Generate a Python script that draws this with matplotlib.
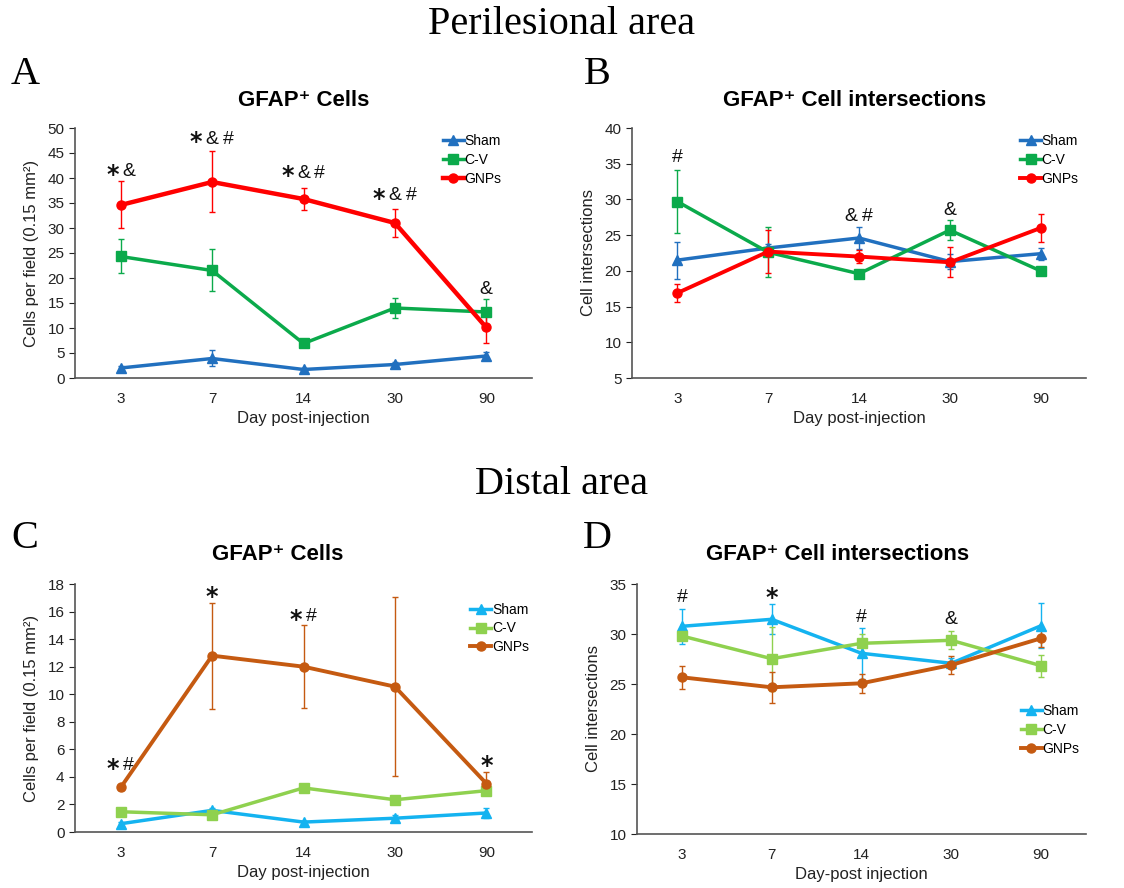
import matplotlib
matplotlib.use("Agg")
import matplotlib.pyplot as plt

plt.rcParams['font.family'] = ['Liberation Sans', 'DejaVu Sans']

days = ["3", "7", "14", "30", "90"]
groups = ["Sham", "C-V", "GNPs"]

# Panel A: perilesional GFAP+ cells
a_sham = [2.0, 3.9, 1.7, 2.7, 4.4]
a_sham_err = [0.3, 1.6, 0.3, 0.4, 0.8]
a_cv = [24.3, 21.5, 6.9, 14.0, 13.2]
a_cv_err = [3.4, 4.2, 0.6, 2.0, 2.5]
a_gnp = [34.6, 39.2, 35.8, 31.0, 10.1]
a_gnp_err = [4.7, 6.1, 2.2, 2.8, 3.1]
a_marks = ["* &", "* & #", "* & #", "* & #", "&"]
a_mark_y = [41.3, 47.8, 41.0, 36.4, 17.6]

# Panel B: perilesional intersections
b_sham = [21.5, 23.2, 24.6, 21.3, 22.4]
b_sham_err = [2.6, 0.6, 1.5, 1.0, 0.85]
b_cv = [29.7, 22.6, 19.6, 25.7, 20.0]
b_cv_err = [4.4, 3.5, 0.4, 1.4, 0.3]
b_gnp = [16.9, 22.7, 22.0, 21.2, 26.0]
b_gnp_err = [1.2, 3.0, 0.9, 2.1, 1.9]
b_marks = ["#", "", "& #", "&", ""]
b_mark_y = [35.8, 0, 27.6, 28.5, 0]

# Panel C: distal GFAP+ cells
c_sham = [0.6, 1.57, 0.72, 1.0, 1.38]
c_sham_err = [0.1, 0.15, 0.1, 0.2, 0.38]
c_cv = [1.47, 1.25, 3.2, 2.34, 3.0]
c_cv_err = [0.1, 0.15, 0.15, 0.15, 0.15]
c_gnp = [3.23, 12.8, 12.0, 10.55, 3.52]
c_gnp_err = [0.15, 3.85, 3.0, 6.5, 0.8]
c_marks = ["* #", "*", "* #", "", "*"]
c_mark_y = [4.8, 17.3, 15.66, 0, 5.04]

# Panel D: distal intersections
d_sham = [30.77, 31.47, 28.07, 27.07, 30.83]
d_sham_err = [1.75, 1.5, 2.56, 0.5, 2.27]
d_cv = [29.8, 27.53, 29.07, 29.37, 26.83]
d_cv_err = [0.4, 3.2, 0.9, 0.9, 1.1]
d_gnp = [25.67, 24.67, 25.07, 26.9, 29.57]
d_gnp_err = [1.17, 1.57, 0.93, 0.93, 0.9]
d_marks = ["#", "*", "#", "&", ""]
d_mark_y = [33.7, 33.97, 31.7, 31.4, 0]

W, H = 1124, 888
fig = plt.figure(figsize=(W / 100, H / 100), dpi=100)


def rect(l, r, t, b):
    return [l / W, 1 - b / H, (r - l) / W, (b - t) / H]


colors_top = ["#2170BF", "#0BAA4B", "#FF0000"]
colors_bot = ["#14B3F0", "#8FD14F", "#C55A11"]
markers = ["^", "s", "o"]
msizes = [7, 6.5, 6.5]


def panel(r, series, errs, colors, ylim, yticks, ylabel, xlabel, title, title_x, title_y,
          marks, mark_y, leg_anchor, lw_list):
    ax = fig.add_axes(rect(*r))
    x = list(range(len(days)))
    for s, e, c, m, ms, g, lw in zip(series, errs, colors, markers, msizes, groups, lw_list):
        ax.errorbar(x, s, yerr=e, fmt='none', ecolor=c, elinewidth=1, capsize=2.5,
                    capthick=1, zorder=2)
        ax.plot(x, s, color=c, marker=m, markersize=ms, lw=lw, label=g, zorder=3)
    ax.set_xlim(-0.5, len(days) - 0.5)
    ax.set_ylim(*ylim)
    ax.set_yticks(yticks)
    ax.set_xticks(x)
    ax.set_xticklabels(days)
    ax.tick_params(axis='x', length=0, labelsize=11, pad=10, colors='#222222')
    ax.tick_params(axis='y', length=4, labelsize=11, colors='#222222', direction='out')
    for sp in ['top', 'right']:
        ax.spines[sp].set_visible(False)
    for sp in ['left', 'bottom']:
        ax.spines[sp].set_color('#555555')
        ax.spines[sp].set_linewidth(1.2)
    ax.set_ylabel(ylabel, fontsize=12, color='#222222', labelpad=6)
    ax.set_xlabel(xlabel, fontsize=12, color='#222222', labelpad=4)
    for xi, t, y in zip(x, marks, mark_y):
        toks = t.split()
        n = len(toks)
        for i, tok in enumerate(toks):
            dx = (i - (n - 1) / 2) * 11.5
            if tok == '*':
                ax.annotate('*', (xi, y), xytext=(dx, -2.5), textcoords='offset points',
                            ha='center', va='center', fontsize=17, fontweight='bold',
                            family=['DejaVu Sans'], color='#111111')
            else:
                ax.annotate(tok, (xi, y), xytext=(dx, 0), textcoords='offset points',
                            ha='center', va='center', fontsize=14, color='#111111')
    ax.legend(loc='upper left', bbox_to_anchor=leg_anchor, frameon=False, fontsize=10,
              handlelength=1.5, handletextpad=0.05, labelspacing=0.35, borderaxespad=0,
              borderpad=0)
    fig.text(title_x / W, 1 - title_y / H, title, ha='center', va='center',
             fontsize=16, fontweight='bold', family=['Liberation Sans', 'DejaVu Sans'])
    return ax


panel((75, 532, 128, 378), [a_sham, a_cv, a_gnp], [a_sham_err, a_cv_err, a_gnp_err],
      colors_top, (0, 50), range(0, 51, 5), "Cells per field (0.15 mm²)",
      "Day post-injection", "GFAP⁺ Cells", 304, 100, a_marks, a_mark_y,
      (0.805, 0.975), [2.5, 2.5, 3.2])
panel((632, 1086, 128, 378), [b_sham, b_cv, b_gnp], [b_sham_err, b_cv_err, b_gnp_err],
      colors_top, (5, 40), range(5, 41, 5), "Cell intersections",
      "Day post-injection", "GFAP⁺ Cell intersections", 855, 100, b_marks, b_mark_y,
      (0.855, 0.975), [2.5, 2.5, 2.8])
panel((75, 532, 584, 832), [c_sham, c_cv, c_gnp], [c_sham_err, c_cv_err, c_gnp_err],
      colors_bot, (0, 18), range(0, 19, 2), "Cells per field (0.15 mm²)",
      "Day post-injection", "GFAP⁺ Cells", 278, 555, c_marks, c_mark_y,
      (0.865, 0.925), [2.5, 2.5, 2.8])
panel((637, 1086, 584, 834), [d_sham, d_cv, d_gnp], [d_sham_err, d_cv_err, d_gnp_err],
      colors_bot, (10, 35), range(10, 36, 5), "Cell intersections",
      "Day-post injection", "GFAP⁺ Cell intersections", 838, 555, d_marks, d_mark_y,
      (0.855, 0.52), [2.5, 2.5, 2.8])

serif = ['Liberation Serif', 'DejaVu Serif']
fig.text(562 / W, 1 - 25 / H, "Perilesional area", ha='center', va='center', fontsize=29, family=serif)
fig.text(562 / W, 1 - 484 / H, "Distal area", ha='center', va='center', fontsize=29, family=serif)
for lab, x, y in [("A", 25, 74), ("B", 597, 74), ("C", 25, 538), ("D", 597, 538)]:
    fig.text(x / W, 1 - y / H, lab, ha='center', va='center', fontsize=29, family=serif)

fig.savefig("out.png", dpi=100)
